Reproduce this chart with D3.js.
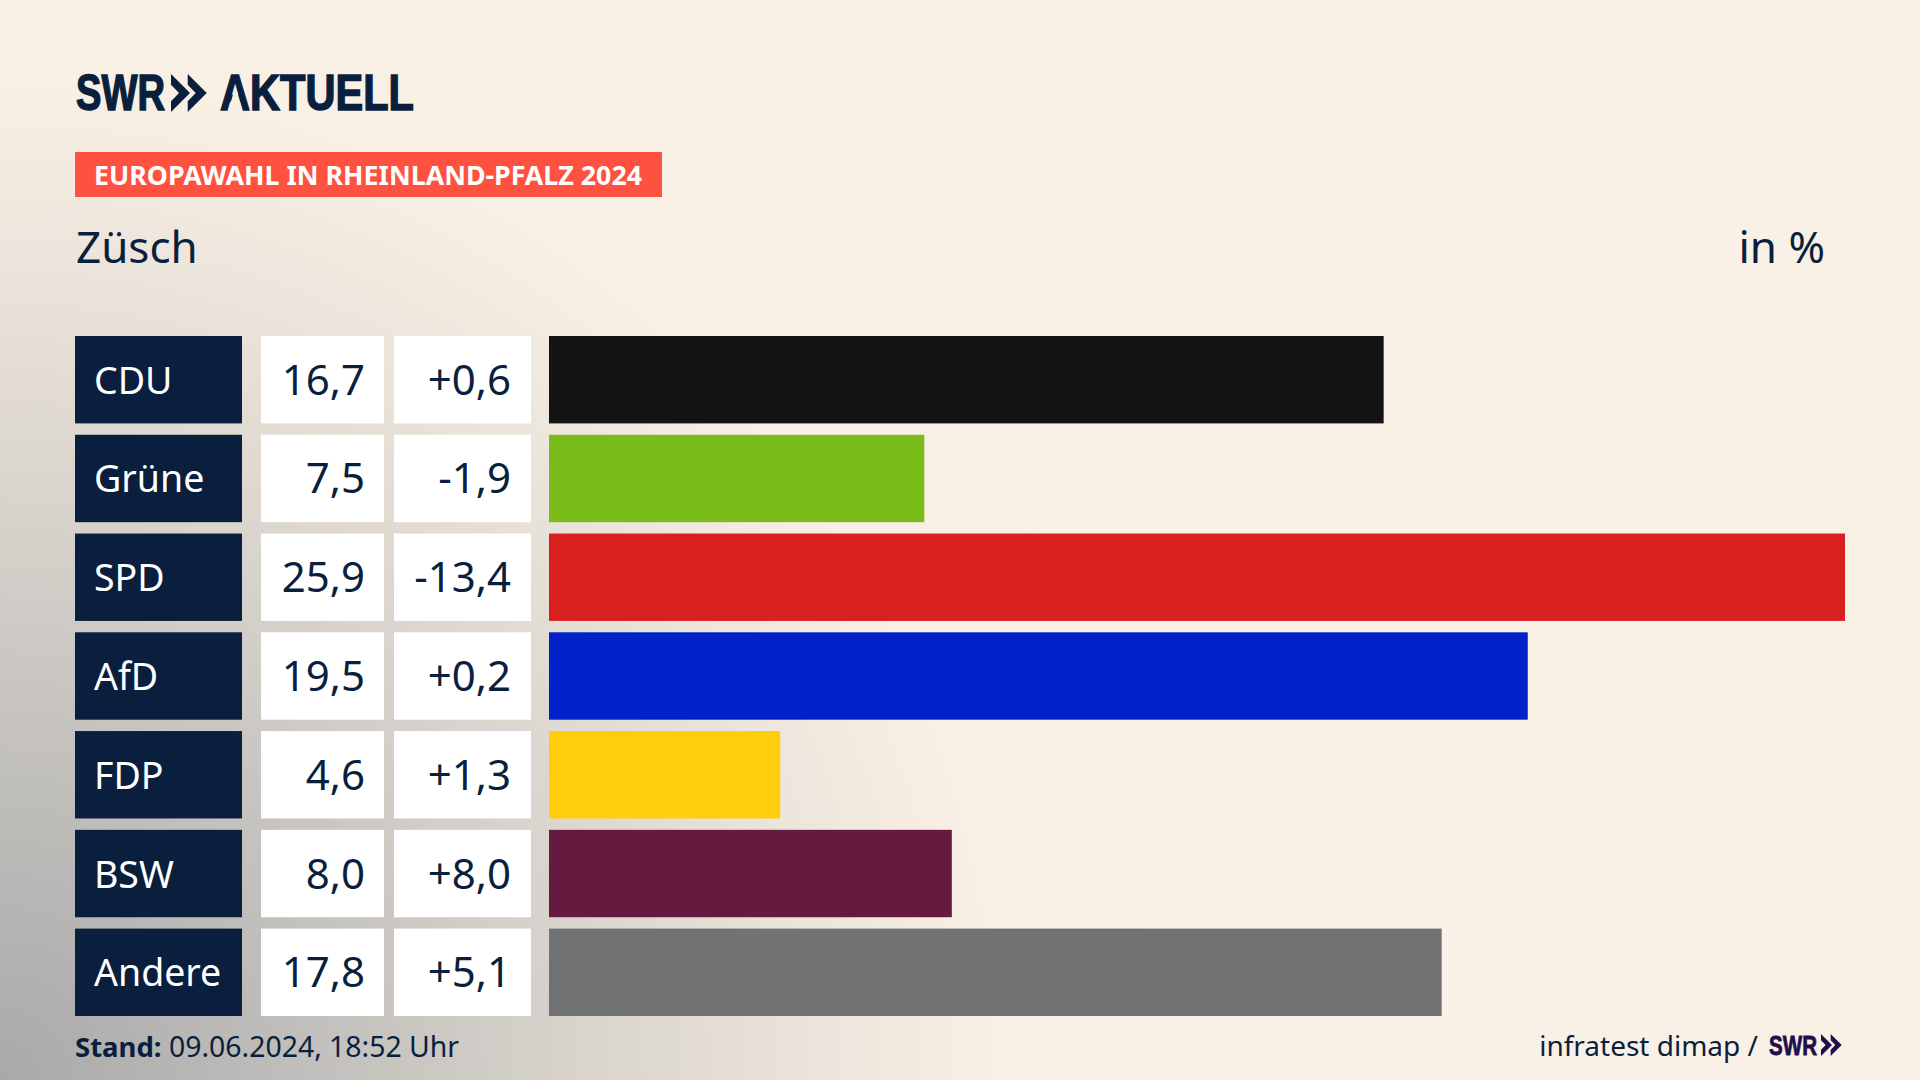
<!DOCTYPE html>
<html lang="de">
<head>
<meta charset="utf-8">
<title>Europawahl Rheinland-Pfalz 2024 - Züsch</title>
<script src="https://cdn.jsdelivr.net/npm/d3@7"></script>
<style>
  html, body { margin: 0; padding: 0; background: #faf1e6; }
  svg { display: block; font-family: "Noto Sans", sans-serif; }
</style>
</head>
<body>
<svg id="chart" width="1920" height="1080"></svg>
<script>
const parties = ['CDU', 'Grüne', 'SPD', 'AfD', 'FDP', 'BSW', 'Andere'];
const shares = [16.7, 7.5, 25.9, 19.5, 4.6, 8.0, 17.8];
const changes = [0.6, -1.9, -13.4, 0.2, 1.3, 8.0, 5.1];
const barLengths = [16.68, 7.5, 25.9, 19.56, 4.62, 8.05, 17.84];
const partyColors = ['#141414', '#7abd1a', '#d8201f', '#0221c8', '#ffcd09', '#661a3f', '#707274'];

const navy = '#0a1f3d';
const cream = '#faf1e6';
const logoFont = '"Liberation Sans Narrow", "Liberation Sans", sans-serif';

const locale = d3.formatLocale({ decimal: ',', thousands: '.', grouping: [3], currency: ['', '€'], minus: '-' });
const formatShare = locale.format('.1f');
const formatChange = locale.format('+.1f');

const svg = d3.select('#chart');

const shade = svg.append('defs').append('radialGradient')
    .attr('id', 'corner-shade')
    .attr('gradientUnits', 'userSpaceOnUse')
    .attr('cx', 0).attr('cy', 1080).attr('r', 1180);
[[0, '#a9a9a9'], [0.25, '#c0bebb'], [0.5, '#d9d4cd'], [0.7, '#ece5db'], [0.85, '#f9f0e5'], [1, cream]].forEach(([offset, color]) => {
    shade.append('stop').attr('offset', offset).attr('stop-color', color);
});

svg.append('rect').attr('width', 1920).attr('height', 1080).attr('fill', 'url(#corner-shade)');

const y = d3.scaleBand().domain(parties).range([336, 1016]).paddingInner(0.115);
const x = d3.scaleLinear().domain([0, 25.9]).range([549, 1845]);

const chevrons = (g, left, top, height, color) => {
    const w = height * 0.5;
    const pts = offset => [
        [left + offset, top],
        [left + offset + w, top + height / 2],
        [left + offset, top + height],
        [left + offset, top + height * 0.72],
        [left + offset + w * 0.42, top + height / 2],
        [left + offset, top + height * 0.28]
    ];
    g.selectAll(null)
        .data([0, w * 0.88])
        .enter()
        .append('polygon')
        .attr('points', d => pts(d).map(p => p.join(',')).join(' '))
        .attr('fill', color);
};

const logoText = (g, left, base, size, length, color, label) => g.append('text')
    .attr('x', left).attr('y', base)
    .attr('font-family', logoFont)
    .attr('font-weight', 700).attr('font-size', size)
    .attr('textLength', length).attr('lengthAdjust', 'spacingAndGlyphs')
    .attr('fill', color)
    .attr('stroke', color).attr('stroke-width', size * 0.03)
    .text(label);

// logo
const logo = svg.append('g');
logoText(logo, 76, 110, 50, 89, navy, 'SWR');
chevrons(logo, 171, 74, 38, navy);
logoText(logo, 220, 110, 50, 194, navy, 'AKTUELL');
// the A of the logo has no crossbar
logo.append('polygon')
    .attr('points', '235.5,86 243,111.5 228,111.5')
    .attr('fill', '#f8efe4');

// header
svg.append('rect').attr('x', 75).attr('y', 152).attr('width', 587).attr('height', 45).attr('fill', '#ff513f');
svg.append('text')
    .attr('x', 94).attr('y', 185)
    .attr('font-weight', 700).attr('font-size', 27)
    .attr('textLength', 548).attr('lengthAdjust', 'spacingAndGlyphs')
    .attr('fill', '#fff')
    .text('EUROPAWAHL IN RHEINLAND-PFALZ 2024');
svg.append('text')
    .attr('x', 76).attr('y', 263)
    .attr('font-size', 44).attr('fill', navy)
    .text('Züsch');
svg.append('text')
    .attr('x', 1825).attr('y', 263)
    .attr('text-anchor', 'end')
    .attr('font-size', 44).attr('fill', navy)
    .text('in %');

// rows
const rows = svg.append('g')
    .selectAll('g')
    .data(parties)
    .enter()
    .append('g');

rows.append('rect')
    .attr('x', 75).attr('y', d => y(d))
    .attr('width', 167).attr('height', y.bandwidth())
    .attr('fill', navy);
rows.append('rect')
    .attr('x', 261).attr('y', d => y(d))
    .attr('width', 123).attr('height', y.bandwidth())
    .attr('fill', '#fff');
rows.append('rect')
    .attr('x', 394).attr('y', d => y(d))
    .attr('width', 137).attr('height', y.bandwidth())
    .attr('fill', '#fff');
rows.append('rect')
    .attr('x', x(0)).attr('y', d => y(d))
    .attr('width', (d, i) => x(barLengths[i]) - x(0)).attr('height', y.bandwidth())
    .attr('fill', (d, i) => partyColors[i]);

const baseline = d => y(d) + y.bandwidth() / 2 + 15;

rows.append('text')
    .attr('x', 94).attr('y', d => baseline(d) - 1)
    .attr('font-size', 37.5).attr('fill', '#fff')
    .text(d => d);
rows.append('text')
    .attr('x', 365).attr('y', baseline)
    .attr('text-anchor', 'end')
    .attr('font-size', 42).attr('fill', navy)
    .text((d, i) => formatShare(shares[i]));
rows.append('text')
    .attr('x', 511).attr('y', baseline)
    .attr('text-anchor', 'end')
    .attr('font-size', 42).attr('fill', navy)
    .text((d, i) => formatChange(changes[i]));

// footer
svg.append('text')
    .attr('x', 75).attr('y', 1057)
    .attr('font-size', 27.5).attr('font-weight', 700).attr('fill', navy)
    .text('Stand:');
svg.append('text')
    .attr('x', 169).attr('y', 1057)
    .attr('font-size', 28.4).attr('fill', navy)
    .text('09.06.2024, 18:52 Uhr');

svg.append('text')
    .attr('x', 1758).attr('y', 1056)
    .attr('text-anchor', 'end')
    .attr('font-size', 28).attr('fill', navy)
    .text('infratest dimap /');
logoText(svg, 1769, 1055, 27, 48, '#1e0f4b', 'SWR');
chevrons(svg.append('g'), 1821, 1034, 22, '#1e0f4b');
</script>
</body>
</html>
